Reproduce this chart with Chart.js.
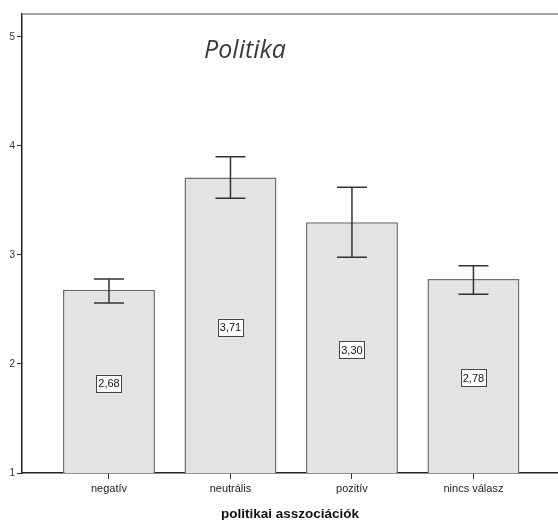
<!DOCTYPE html>
<html>
<head>
<meta charset="utf-8">
<script src="https://cdn.jsdelivr.net/npm/chart.js@4/dist/chart.umd.min.js"></script>
<style>
  html, body { margin: 0; padding: 0; background: #fff; }
  #wrap { width: 558px; height: 520px; position: relative; }
</style>
</head>
<body>
<div id="wrap"><canvas id="chart"></canvas></div>
<script>
// categories and values
const categories = ["negatív", "neutrális", "pozitív", "nincs válasz"];
const means = [2.68, 3.71, 3.30, 2.78];
const errLow = [2.56, 3.52, 2.98, 2.64];
const errHigh = [2.78, 3.90, 3.62, 2.90];
const yTicks = [1, 2, 3, 4, 5];

const fmt = v => v.toFixed(2).replace(".", ",");

// error bars (whiskers) from the y scale
const errorBars = {
    id: "errorBars",
    afterDatasetsDraw(chart) {
        const ctx = chart.ctx;
        const y = chart.scales.y;
        const meta = chart.getDatasetMeta(0);
        ctx.save();
        ctx.strokeStyle = "#333";
        ctx.lineWidth = 1.5;
        meta.data.forEach((bar, i) => {
            const top = y.getPixelForValue(errHigh[i]);
            const bot = y.getPixelForValue(errLow[i]);
            ctx.beginPath();
            ctx.moveTo(bar.x, top); ctx.lineTo(bar.x, bot);
            ctx.moveTo(bar.x - 15, top); ctx.lineTo(bar.x + 15, top);
            ctx.moveTo(bar.x - 15, bot); ctx.lineTo(bar.x + 15, bot);
            ctx.stroke();
        });
        ctx.restore();
    }
};

// boxed value labels in the middle of the visible part of each bar
const valueBoxes = {
    id: "valueBoxes",
    afterDatasetsDraw(chart) {
        const ctx = chart.ctx;
        const meta = chart.getDatasetMeta(0);
        const bottom = chart.chartArea.bottom;
        ctx.save();
        ctx.font = "11px Arial, 'Liberation Sans', sans-serif";
        ctx.textAlign = "center";
        ctx.textBaseline = "middle";
        meta.data.forEach((bar, i) => {
            const txt = fmt(means[i]);
            const w = ctx.measureText(txt).width + 4;
            const h = 17;
            const cy = (bar.y + bottom) / 2 + 2;
            ctx.fillStyle = "#fff";
            ctx.fillRect(bar.x - w / 2, cy - h / 2, w, h);
            ctx.strokeStyle = "#444";
            ctx.lineWidth = 1;
            ctx.strokeRect(Math.round(bar.x - w / 2) + 0.5, Math.round(cy - h / 2) + 0.5, Math.round(w), h);
            ctx.fillStyle = "#111";
            ctx.fillText(txt, bar.x, cy + 1);
        });
        ctx.restore();
    }
};

// top frame line and the "Politika" caption inside the plot
const frame = {
    id: "frame",
    afterDraw(chart) {
        const ctx = chart.ctx;
        const a = chart.chartArea;
        ctx.save();
        ctx.strokeStyle = "#888";
        ctx.lineWidth = 1.5;
        ctx.beginPath();
        ctx.moveTo(a.left, a.top);
        ctx.lineTo(a.right, a.top);
        ctx.stroke();
        ctx.fillStyle = "#3a3a3a";
        ctx.font = "italic 25px 'Open Sans', 'Noto Sans', sans-serif";
        ctx.textAlign = "center";
        ctx.textBaseline = "alphabetic";
        ctx.fillText("Politika", a.left + 223, a.top + 44);
        ctx.restore();
    }
};

new Chart(document.getElementById("chart"), {
    type: "bar",
    data: {
        datasets: [{
            data: means.map((v, i) => ({ x: i, y: v })),
            backgroundColor: "#e3e3e3",
            borderColor: "#707070",
            borderWidth: 1.5,
            categoryPercentage: 1,
            barPercentage: 0.757
        }]
    },
    options: {
        responsive: true,
        maintainAspectRatio: false,
        animation: false,
        layout: { padding: { top: 14, right: 0, bottom: 0, left: 0 } },
        plugins: {
            legend: { display: false },
            tooltip: { enabled: false }
        },
        scales: {
            x: {
                type: "linear",
                offset: false,
                min: -0.716,
                max: 3.696,
                afterBuildTicks: s => { s.ticks = categories.map((c, i) => ({ value: i })); },
                afterFit: s => { s.height = 47; },
                ticks: {
                    callback: v => categories[v],
                    font: { family: "Arial, 'Liberation Sans', sans-serif", size: 11 },
                    color: "#222",
                    padding: 3,
                    maxRotation: 0
                },
                grid: { offset: false, drawOnChartArea: false, drawTicks: true, tickLength: 6, color: "#333", lineWidth: 1 },
                border: { display: true, color: "#222", width: 1.5 },
                title: {
                    display: true,
                    text: "politikai asszociációk",
                    font: { family: "Arial, 'Liberation Sans', sans-serif", size: 13.5, weight: "bold", lineHeight: 0.8 },
                    color: "#111",
                    padding: { top: 10, bottom: 0 }
                }
            },
            y: {
                min: 1,
                max: 5.21,
                afterBuildTicks: s => { s.ticks = yTicks.map(v => ({ value: v })); },
                afterFit: s => { s.width = 22; },
                ticks: {
                    font: { family: "Arial, 'Liberation Sans', sans-serif", size: 10 },
                    color: "#333",
                    padding: 2
                },
                grid: { drawOnChartArea: false, drawTicks: true, tickLength: 5, color: "#333", lineWidth: 1 },
                border: { display: true, color: "#222", width: 1.5 }
            }
        }
    },
    plugins: [errorBars, valueBoxes, frame]
});
</script>
</body>
</html>
